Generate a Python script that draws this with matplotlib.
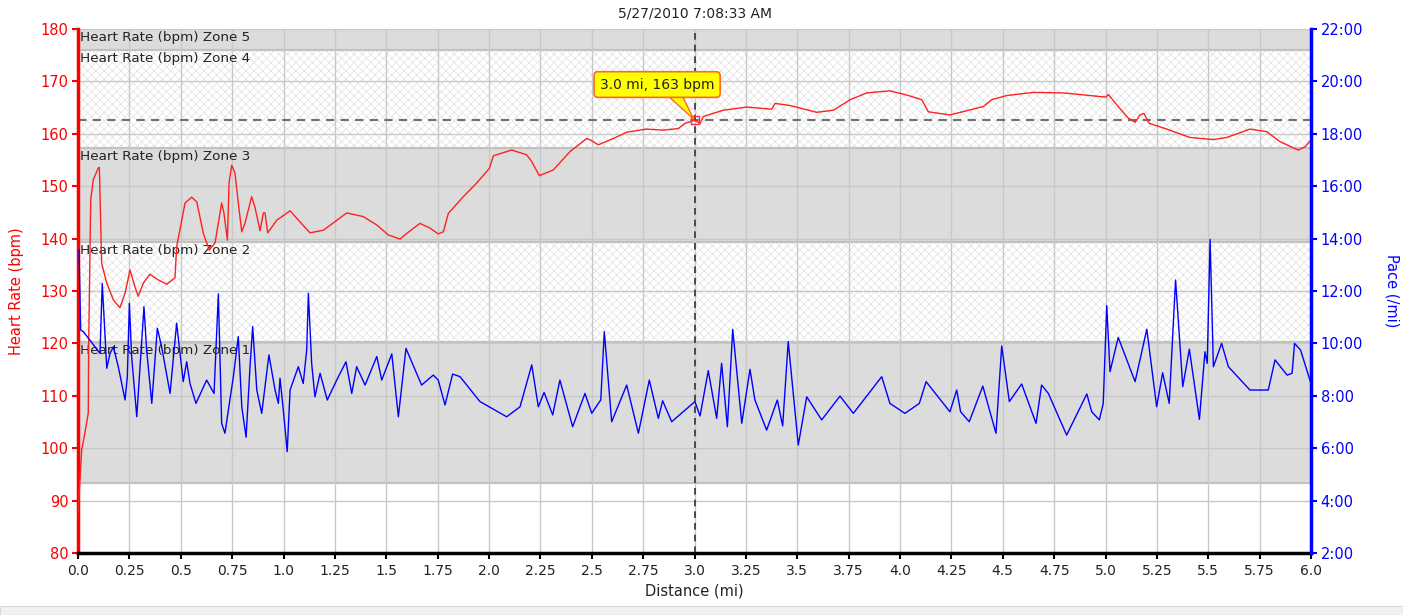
import matplotlib
matplotlib.use("Agg")
import matplotlib.pyplot as plt
from matplotlib.ticker import FixedLocator, FixedFormatter
from matplotlib.patches import Rectangle

# ---------------- data ----------------
title_text = "5/27/2010 7:08:33 AM"

hr_dist = [0.0, 0.018, 0.034, 0.050, 0.052, 0.062, 0.074, 0.099, 0.104, 0.115, 0.140, 0.172, 0.204,
           0.229, 0.253, 0.277, 0.293, 0.318, 0.350, 0.391, 0.432, 0.472, 0.480, 0.521, 0.553, 0.578,
           0.610, 0.639, 0.667, 0.699, 0.710, 0.727, 0.735, 0.748, 0.764, 0.780, 0.797, 0.813, 0.845,
           0.861, 0.886, 0.902, 0.910, 0.923, 0.967, 1.032, 1.080, 1.129, 1.194, 1.308, 1.388, 1.454,
           1.510, 1.567, 1.600, 1.664, 1.713, 1.753, 1.778, 1.802, 1.875, 1.940, 2.002, 2.021, 2.110,
           2.183, 2.208, 2.245, 2.313, 2.394, 2.475, 2.495, 2.532, 2.605, 2.670, 2.767, 2.848, 2.921,
           2.954, 3.0, 3.027, 3.043, 3.140, 3.254, 3.376, 3.392, 3.465, 3.595, 3.676, 3.757, 3.838,
           3.951, 4.033, 4.106, 4.138, 4.243, 4.405, 4.446, 4.519, 4.649, 4.795, 5.002, 5.014, 5.062,
           5.111, 5.144, 5.168, 5.187, 5.213, 5.298, 5.411, 5.525, 5.590, 5.703, 5.785, 5.849, 5.938,
           5.971, 6.0]
hr_bpm = [87.6, 99.7, 103.0, 106.7, 120.0, 147.4, 151.2, 153.5, 153.6, 135.3, 131.5, 128.3, 126.8,
          129.6, 134.0, 130.8, 129.0, 131.5, 133.2, 132.1, 131.3, 132.5, 138.4, 146.8, 147.9, 147.0,
          141.0, 137.8, 139.2, 146.8, 144.9, 139.7, 150.6, 154.0, 152.5, 146.8, 141.3, 143.0, 148.0,
          146.0, 141.5, 144.9, 144.9, 141.1, 143.5, 145.3, 143.2, 141.1, 141.6, 144.9, 144.2, 142.6,
          140.7, 139.9, 141.0, 142.9, 142.0, 140.9, 141.3, 144.8, 148.0, 150.6, 153.4, 155.8, 156.9,
          156.0, 154.7, 152.0, 153.1, 156.6, 159.1, 158.8, 157.9, 159.1, 160.3, 160.9, 160.7, 161.0,
          162.0, 162.6, 162.0, 163.3, 164.5, 165.1, 164.7, 165.8, 165.4, 164.1, 164.5, 166.5, 167.8,
          168.2, 167.4, 166.5, 164.2, 163.6, 165.2, 166.5, 167.3, 167.9, 167.8, 167.0, 167.5, 165.2,
          163.0, 162.2, 163.6, 163.9, 162.0, 160.9, 159.3, 158.9, 159.3, 160.9, 160.4, 158.5, 156.9,
          157.5, 158.8]

pace_dist = [0.005, 0.013, 0.026, 0.107, 0.118, 0.140, 0.156, 0.172, 0.196, 0.229, 0.240, 0.250, 0.261,
             0.286, 0.302, 0.321, 0.334, 0.359, 0.386, 0.407, 0.448, 0.480, 0.512, 0.529, 0.545, 0.574,
             0.626, 0.662, 0.683, 0.699, 0.715, 0.756, 0.780, 0.797, 0.818, 0.837, 0.850, 0.870, 0.894,
             0.929, 0.959, 0.975, 0.983, 0.999, 1.018, 1.032, 1.072, 1.096, 1.113, 1.121, 1.137, 1.153,
             1.178, 1.213, 1.259, 1.304, 1.332, 1.356, 1.397, 1.454, 1.478, 1.527, 1.559, 1.596, 1.672,
             1.729, 1.753, 1.786, 1.823, 1.859, 1.956, 2.086, 2.151, 2.208, 2.240, 2.268, 2.310, 2.345,
             2.407, 2.467, 2.500, 2.532, 2.544, 2.561, 2.597, 2.670, 2.727, 2.780, 2.824, 2.845, 2.889,
             3.002, 3.027, 3.067, 3.108, 3.132, 3.160, 3.186, 3.230, 3.270, 3.294, 3.351, 3.403, 3.429,
             3.456, 3.505, 3.546, 3.619, 3.708, 3.773, 3.911, 3.951, 4.024, 4.094, 4.127, 4.243, 4.276,
             4.295, 4.337, 4.403, 4.467, 4.495, 4.532, 4.592, 4.662, 4.689, 4.722, 4.811, 4.909, 4.933,
             4.970, 4.989, 5.006, 5.022, 5.062, 5.144, 5.201, 5.249, 5.278, 5.310, 5.341, 5.376, 5.408,
             5.457, 5.484, 5.495, 5.509, 5.525, 5.565, 5.598, 5.703, 5.792, 5.825, 5.884, 5.908, 5.920,
             5.949, 6.0]
pace_min = [13.57, 10.51, 10.45, 9.62, 12.29, 9.05, 9.62, 9.87, 9.11, 7.84, 8.73, 11.53, 9.50,
            7.20, 9.11, 11.40, 9.75, 7.71, 10.58, 9.87, 8.09, 10.77, 8.54, 9.30, 8.47, 7.71,
            8.60, 8.09, 11.89, 6.95, 6.57, 8.73, 10.26, 7.58, 6.42, 9.11, 10.64, 8.22, 7.33,
            9.56, 8.22, 7.71, 8.67, 7.46, 5.87, 8.22, 9.11, 8.47, 9.75, 11.91, 9.24, 7.96,
            8.86, 7.84, 8.60, 9.30, 8.09, 9.11, 8.41, 9.50, 8.60, 9.60, 7.20, 9.81, 8.41,
            8.79, 8.60, 7.65, 8.83, 8.73, 7.78, 7.20, 7.58, 9.18, 7.58, 8.13, 7.27, 8.60,
            6.82, 8.09, 7.33, 7.71, 7.84, 10.45, 7.01, 8.41, 6.57, 8.60, 7.14, 7.81, 7.01,
            7.78, 7.23, 8.96, 7.14, 9.24, 6.82, 10.54, 6.95, 9.01, 7.84, 6.69, 7.84, 6.85,
            10.07, 6.12, 7.96, 7.08, 7.99, 7.33, 8.73, 7.71, 7.33, 7.71, 8.54, 7.39, 8.22,
            7.39, 7.01, 8.37, 6.57, 9.90, 7.78, 8.45, 6.95, 8.41, 8.09, 6.50, 8.07, 7.39,
            7.08, 7.71, 11.44, 8.92, 10.23, 8.54, 10.54, 7.58, 8.88, 7.71, 12.42, 8.35, 9.78,
            7.10, 9.68, 9.24, 13.97, 9.11, 10.00, 9.11, 8.22, 8.22, 9.37, 8.79, 8.86, 10.00,
            9.75, 8.47]

zone_names = ["Heart Rate (bpm) Zone 1", "Heart Rate (bpm) Zone 2", "Heart Rate (bpm) Zone 3",
              "Heart Rate (bpm) Zone 4", "Heart Rate (bpm) Zone 5"]
zone_low = [93.4, 120.2, 139.3, 157.2, 176.0]
zone_high = [120.2, 139.3, 157.2, 176.0, 180.0]

x_ticks = [0.0, 0.25, 0.5, 0.75, 1.0, 1.25, 1.5, 1.75, 2.0, 2.25, 2.5, 2.75, 3.0, 3.25, 3.5, 3.75,
           4.0, 4.25, 4.5, 4.75, 5.0, 5.25, 5.5, 5.75, 6.0]
x_tick_labels = ["0.0", "0.25", "0.5", "0.75", "1.0", "1.25", "1.5", "1.75", "2.0", "2.25", "2.5",
                 "2.75", "3.0", "3.25", "3.5", "3.75", "4.0", "4.25", "4.5", "4.75", "5.0", "5.25",
                 "5.5", "5.75", "6.0"]
hr_ticks = [80, 90, 100, 110, 120, 130, 140, 150, 160, 170, 180]
pace_ticks = [2, 4, 6, 8, 10, 12, 14, 16, 18, 20, 22]
pace_tick_labels = ["2:00", "4:00", "6:00", "8:00", "10:00", "12:00", "14:00", "16:00", "18:00",
                    "20:00", "22:00"]

cursor_dist = 3.0
cursor_hr = 162.6
cursor_label = "3.0 mi, 163 bpm"

# ---------------- figure ----------------
plt.rcParams['font.family'] = ['DejaVu Sans']
plt.rcParams['hatch.linewidth'] = 0.5
fig = plt.figure(figsize=(14.03, 6.15), dpi=100)
ax = fig.add_axes([78 / 1403, 1 - 553 / 615, (1311 - 78) / 1403, (553 - 29) / 615])
ax.set_xlim(0, 6)
ax.set_ylim(80, 180)

gray = "#dcdcdc"
for i, (lo, hi, name) in enumerate(zip(zone_low, zone_high, zone_names)):
    if i % 2 == 0:
        ax.axhspan(lo, hi, facecolor=gray, edgecolor="none", zorder=0)
    else:
        ax.axhspan(lo, hi, facecolor="white", edgecolor="#e0e0e0", hatch="xxxx", linewidth=0, zorder=0)
    ax.axhline(lo, color="#c2c2c2", lw=1.6, zorder=0.5)
    ax.text(0.01, hi - 0.35, name, fontsize=9.7, color="#222222", va="top", ha="left", zorder=3)

ax.grid(True, color="#c8c8c8", lw=1.0, zorder=1)
ax.set_axisbelow(True)

ax.axhline(cursor_hr, color="#707070", lw=1.5, dashes=(4, 3), zorder=2)
ax.axvline(cursor_dist, color="#333333", lw=1.2, dashes=(4, 3), zorder=2)

ax.plot(hr_dist, hr_bpm, color="#ff2020", lw=1.0, zorder=4)

ax.xaxis.set_major_locator(FixedLocator(x_ticks))
ax.xaxis.set_major_formatter(FixedFormatter(x_tick_labels))
ax.yaxis.set_major_locator(FixedLocator(hr_ticks))
ax.tick_params(axis="x", colors="black", labelcolor="#222222", labelsize=10, length=4, width=1.5, pad=4)
ax.tick_params(axis="y", colors="#ff0000", labelcolor="#ff0000", labelsize=10.5, length=4, width=1.5, pad=3)

ax.spines["left"].set_color("#ff0000")
ax.spines["left"].set_linewidth(2.5)
ax.spines["bottom"].set_color("black")
ax.spines["bottom"].set_linewidth(2.5)
ax.spines["top"].set_visible(False)
ax.spines["right"].set_visible(False)

ax.set_xlabel("Distance (mi)", fontsize=10.5, color="#222222", labelpad=4)
ax.set_ylabel("Heart Rate (bpm)", fontsize=10.5, color="#ff0000", labelpad=12)
ax.set_title(title_text, fontsize=10, color="#222222", pad=8)

ax2 = ax.twinx()
ax2.set_ylim(2, 22)
ax2.plot(pace_dist, pace_min, color="#0000ff", lw=1.0, zorder=4)
ax2.yaxis.set_major_locator(FixedLocator(pace_ticks))
ax2.yaxis.set_major_formatter(FixedFormatter(pace_tick_labels))
ax2.tick_params(axis="y", colors="#0000ff", labelcolor="#0000ff", labelsize=10.5, length=4, width=1.5, pad=3)
ax2.spines["right"].set_color("#0000ff")
ax2.spines["right"].set_linewidth(2.5)
for s in ["left", "top", "bottom"]:
    ax2.spines[s].set_visible(False)
ax2.set_ylabel("Pace (/mi)", fontsize=10.5, color="#0000ff", rotation=270, labelpad=26)

cursor_pace = 2 + (cursor_hr - 80) / 5.0
ax2.plot([cursor_dist], [cursor_pace], marker="s", ms=6, mfc="none", mec="#ff3030",
         mew=1.0, zorder=6)
ax2.annotate(cursor_label, xy=(cursor_dist, cursor_pace), xycoords="data",
             xytext=(2.818, 2 + (169.4 - 80) / 5.0), textcoords="data",
             ha="center", va="center", fontsize=10, color="#222222", zorder=7,
             bbox=dict(boxstyle="round,pad=0.42,rounding_size=0.3", fc="#ffff00", ec="#ff6a20", lw=1.2),
             arrowprops=dict(arrowstyle="wedge,tail_width=1.1,shrink_factor=0.5", fc="#ffff00",
                             ec="#ff6a20", lw=1.0, relpos=(0.61, 0.3), patchA=None,
                             shrinkA=0, shrinkB=1))

fig.patches.append(Rectangle((0, 0), 1, 9 / 615, transform=fig.transFigure, fc="#f0f1f4",
                             ec="#d8d8d8", lw=0.8))

fig.savefig("out.png", dpi=100)
